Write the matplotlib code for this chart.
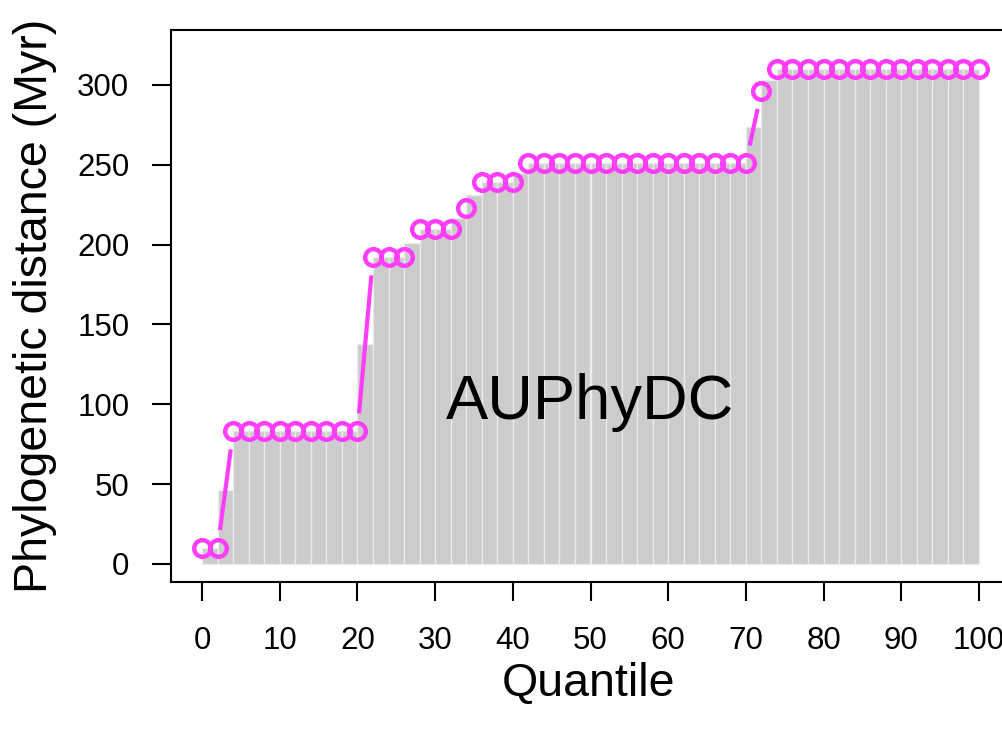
import numpy as np
import matplotlib
matplotlib.use("Agg")
import matplotlib.pyplot as plt

plt.rcParams['font.family'] = ['Liberation Sans', 'DejaVu Sans']

# quantile positions and phylogenetic distance (Myr)
quantiles = list(range(0, 101, 2))
distances = [10, 10,
             83, 83, 83, 83, 83, 83, 83, 83, 83,
             192, 192, 192,
             210, 210, 210,
             223,
             239, 239, 239,
             251, 251, 251, 251, 251, 251, 251, 251, 251, 251, 251, 251, 251, 251, 251,
             296,
             310, 310, 310, 310, 310, 310, 310, 310, 310, 310, 310, 310, 310, 310]
xticks = list(range(0, 101, 10))
yticks = [0, 50, 100, 150, 200, 250, 300]

magenta = '#ff3dfb'

fig = plt.figure(figsize=(10.03, 7.31), dpi=100)
ax = fig.add_axes([171/1003, 149/731, 839/1003, 552/731])
ax.set_xlim(-4.0, 104.0)
ax.set_ylim(-11.3, 334.4)

x = np.array(quantiles, dtype=float)
y = np.array(distances, dtype=float)

# area bars between consecutive quantiles (height = mean of the two ends)
heights = (y[:-1] + y[1:]) / 2
ax.bar(x[:-1], heights, width=np.diff(x), align='edge', color='#cccccc',
       edgecolor='#ececec', linewidth=0.9, zorder=1)

# R type="b" style: segments broken around the points
gap = 18.0
pts = ax.transData.transform(np.column_stack([x, y]))
inv = ax.transData.inverted()
for i in range(len(pts) - 1):
    p0, p1 = pts[i], pts[i + 1]
    d = p1 - p0
    length = np.hypot(d[0], d[1])
    if length <= 2 * gap:
        continue
    u = d / length
    a = inv.transform(p0 + u * gap)
    b = inv.transform(p1 - u * gap)
    ax.plot([a[0], b[0]], [a[1], b[1]], color=magenta, lw=3.0,
            solid_capstyle='butt', zorder=2)

ax.plot(x, y, linestyle='none', marker='o', markersize=12,
        markerfacecolor='none', markeredgecolor=magenta, markeredgewidth=3.2,
        zorder=3)

ax.text(50, 101, 'AUPhyDC', fontsize=45.5, ha='center', va='center', zorder=4)

ax.set_xticks(xticks)
ax.set_yticks(yticks)
ax.tick_params(axis='x', direction='out', length=14, width=1.5,
               labelsize=22.5, pad=18)
ax.tick_params(axis='y', direction='out', length=14, width=1.5,
               labelsize=22.5, pad=16)
for sp in ax.spines.values():
    sp.set_linewidth(1.5)

ax.set_xlabel('Quantile', fontsize=33.5, va='center')
ax.xaxis.set_label_coords(0.498, -0.185)
ax.set_ylabel('Phylogenetic distance (Myr)', fontsize=33.5, va='center')
ax.yaxis.set_label_coords(-0.162, 0.5)

fig.savefig('out.png', dpi=100)
